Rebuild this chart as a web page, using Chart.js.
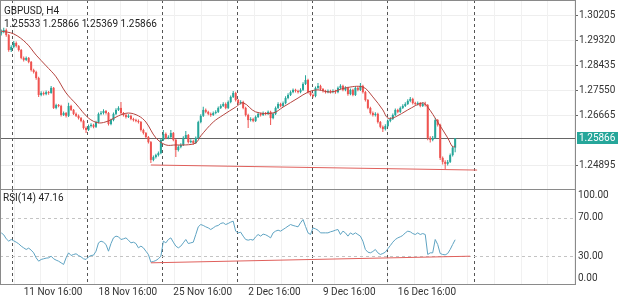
<!DOCTYPE html>
<html><head><meta charset="utf-8">
<script src="https://cdn.jsdelivr.net/npm/chart.js@4.4.1/dist/chart.umd.min.js"></script>
<style>
html,body{margin:0;padding:0;background:#fff;overflow:hidden}
#wrap{position:relative;width:625px;height:298px;background:#fff}
#c1{position:absolute;left:0;top:0}
#c2{position:absolute;left:0;top:189px}
</style></head><body>
<div id="wrap">
<canvas id="c1" width="625" height="189"></canvas>
<canvas id="c2" width="625" height="109"></canvas>
</div>
<script>
// ---------------- DATA ----------------
const symbolTitle = 'GBPUSD, H4';
const lastOHLC = '1.25533 1.25866 1.25369 1.25866';
const rsiTitle = 'RSI(14) 47.16';

const opens = [
1.2958,1.2963,1.2970,1.2952,1.2899,1.2910,1.2924,1.2913,1.2899,1.2871,
1.2864,1.2871,1.2857,1.2828,1.2821,1.2800,1.2740,1.2747,1.2743,1.2750,
1.2747,1.2765,1.2694,1.2704,1.2701,1.2669,1.2676,1.2666,1.2701,1.2687,
1.2673,1.2666,1.2658,1.2648,1.2623,1.2616,1.2630,1.2634,1.2627,1.2644,
1.2673,1.2676,1.2683,1.2676,1.2637,1.2651,1.2673,1.2687,1.2694,1.2676,
1.2669,1.2662,1.2666,1.2655,1.2651,1.2648,1.2644,1.2616,1.2605,1.2591,
1.2573,1.2510,1.2520,1.2527,1.2534,1.2581,1.2602,1.2588,1.2591,1.2605,
1.2581,1.2545,1.2556,1.2563,1.2588,1.2598,1.2573,1.2577,1.2570,1.2588,
1.2644,1.2666,1.2687,1.2680,1.2673,1.2669,1.2676,1.2680,1.2694,1.2701,
1.2708,1.2694,1.2715,1.2733,1.2747,1.2722,1.2711,1.2715,1.2694,1.2669,
1.2651,1.2655,1.2648,1.2662,1.2673,1.2669,1.2676,1.2673,1.2680,1.2658,
1.2673,1.2694,1.2708,1.2701,1.2711,1.2729,1.2740,1.2750,1.2758,1.2754,
1.2750,1.2758,1.2779,1.2793,1.2750,1.2740,1.2736,1.2765,1.2772,1.2761,
1.2754,1.2750,1.2754,1.2750,1.2754,1.2750,1.2765,1.2772,1.2758,1.2765,
1.2743,1.2758,1.2740,1.2765,1.2758,1.2772,1.2750,1.2722,1.2694,1.2676,
1.2669,1.2673,1.2644,1.2627,1.2619,1.2630,1.2648,1.2655,1.2669,1.2687,
1.2680,1.2694,1.2701,1.2708,1.2719,1.2726,1.2711,1.2708,1.2711,1.2701,
1.2708,1.2704,1.2588,1.2581,1.2588,1.2651,1.2634,1.2517,1.2503,1.2496,
1.2503,1.2527,1.25533];
const highs = [
1.2972,1.2978,1.2975,1.2956,1.2916,1.2931,1.2929,1.2917,1.2903,1.2876,
1.2876,1.2874,1.2860,1.2833,1.2826,1.2804,1.2753,1.2752,1.2756,1.2754,
1.2772,1.2768,1.2709,1.2708,1.2705,1.2681,1.2680,1.2712,1.2705,1.2690,
1.2678,1.2671,1.2662,1.2652,1.2628,1.2635,1.2640,1.2638,1.2649,1.2678,
1.2683,1.2689,1.2687,1.2680,1.2656,1.2678,1.2693,1.2700,1.2715,1.2680,
1.2673,1.2672,1.2670,1.2659,1.2656,1.2653,1.2648,1.2620,1.2609,1.2595,
1.2577,1.2526,1.2532,1.2540,1.2587,1.2616,1.2607,1.2597,1.2616,1.2609,
1.2585,1.2562,1.2569,1.2594,1.2612,1.2602,1.2583,1.2581,1.2593,1.2649,
1.2672,1.2698,1.2692,1.2684,1.2678,1.2681,1.2686,1.2699,1.2707,1.2714,
1.2713,1.2720,1.2738,1.2754,1.2751,1.2726,1.2721,1.2719,1.2698,1.2673,
1.2661,1.2659,1.2667,1.2678,1.2677,1.2681,1.2680,1.2685,1.2684,1.2678,
1.2699,1.2714,1.2712,1.2717,1.2735,1.2746,1.2756,1.2763,1.2762,1.2758,
1.2764,1.2785,1.2810,1.2797,1.2754,1.2745,1.2770,1.2782,1.2776,1.2765,
1.2758,1.2759,1.2758,1.2760,1.2758,1.2770,1.2778,1.2776,1.2771,1.2769,
1.2763,1.2762,1.2770,1.2770,1.2782,1.2776,1.2754,1.2726,1.2698,1.2681,
1.2679,1.2677,1.2648,1.2632,1.2636,1.2653,1.2661,1.2674,1.2692,1.2691,
1.2699,1.2707,1.2714,1.2725,1.2733,1.2730,1.2716,1.2717,1.2715,1.2714,
1.2716,1.2708,1.2594,1.2595,1.2658,1.2655,1.2638,1.2522,1.2509,1.2510,
1.2533,1.2560,1.25866];
const lows = [
1.2950,1.2958,1.2946,1.2893,1.2892,1.2905,1.2908,1.2894,1.2866,1.2858,
1.2860,1.2852,1.2823,1.2816,1.2794,1.2733,1.2735,1.2738,1.2739,1.2741,
1.2744,1.2690,1.2689,1.2696,1.2664,1.2665,1.2660,1.2662,1.2683,1.2669,
1.2662,1.2653,1.2643,1.2618,1.2605,1.2612,1.2625,1.2622,1.2623,1.2640,
1.2668,1.2671,1.2671,1.2632,1.2633,1.2647,1.2669,1.2683,1.2672,1.2664,
1.2657,1.2658,1.2650,1.2646,1.2643,1.2639,1.2611,1.2600,1.2586,1.2568,
1.2499,1.2505,1.2515,1.2522,1.2530,1.2577,1.2583,1.2583,1.2587,1.2576,
1.2520,1.2540,1.2551,1.2559,1.2584,1.2568,1.2569,1.2564,1.2566,1.2584,
1.2640,1.2662,1.2675,1.2668,1.2663,1.2665,1.2672,1.2676,1.2690,1.2697,
1.2689,1.2690,1.2711,1.2729,1.2717,1.2706,1.2706,1.2689,1.2664,1.2623,
1.2646,1.2643,1.2644,1.2658,1.2664,1.2665,1.2668,1.2669,1.2634,1.2654,
1.2669,1.2690,1.2696,1.2697,1.2707,1.2725,1.2736,1.2746,1.2749,1.2745,
1.2746,1.2754,1.2775,1.2745,1.2735,1.2731,1.2732,1.2760,1.2756,1.2749,
1.2745,1.2746,1.2745,1.2746,1.2744,1.2746,1.2760,1.2753,1.2753,1.2737,
1.2739,1.2735,1.2736,1.2753,1.2754,1.2745,1.2717,1.2689,1.2671,1.2664,
1.2664,1.2639,1.2622,1.2609,1.2614,1.2626,1.2643,1.2651,1.2665,1.2675,
1.2676,1.2690,1.2697,1.2704,1.2714,1.2706,1.2703,1.2703,1.2696,1.2697,
1.2699,1.2580,1.2572,1.2576,1.2584,1.2628,1.2510,1.2494,1.2478,1.2490,
1.2499,1.2522,1.25369];
const closes = [
1.2963,1.2970,1.2952,1.2899,1.2910,1.2924,1.2913,1.2899,1.2871,1.2864,
1.2871,1.2857,1.2828,1.2821,1.2800,1.2740,1.2747,1.2743,1.2750,1.2747,
1.2765,1.2694,1.2704,1.2701,1.2669,1.2676,1.2666,1.2701,1.2687,1.2673,
1.2666,1.2658,1.2648,1.2623,1.2616,1.2630,1.2634,1.2627,1.2644,1.2673,
1.2676,1.2683,1.2676,1.2637,1.2651,1.2673,1.2687,1.2694,1.2676,1.2669,
1.2662,1.2666,1.2655,1.2651,1.2648,1.2644,1.2616,1.2605,1.2591,1.2573,
1.2510,1.2520,1.2527,1.2534,1.2581,1.2602,1.2588,1.2591,1.2605,1.2581,
1.2545,1.2556,1.2563,1.2588,1.2598,1.2573,1.2577,1.2570,1.2588,1.2644,
1.2666,1.2687,1.2680,1.2673,1.2669,1.2676,1.2680,1.2694,1.2701,1.2708,
1.2694,1.2715,1.2733,1.2747,1.2722,1.2711,1.2715,1.2694,1.2669,1.2651,
1.2655,1.2648,1.2662,1.2673,1.2669,1.2676,1.2673,1.2680,1.2658,1.2673,
1.2694,1.2708,1.2701,1.2711,1.2729,1.2740,1.2750,1.2758,1.2754,1.2750,
1.2758,1.2779,1.2793,1.2750,1.2740,1.2736,1.2765,1.2772,1.2761,1.2754,
1.2750,1.2754,1.2750,1.2754,1.2750,1.2765,1.2772,1.2758,1.2765,1.2743,
1.2758,1.2740,1.2765,1.2758,1.2772,1.2750,1.2722,1.2694,1.2676,1.2669,
1.2673,1.2644,1.2627,1.2619,1.2630,1.2648,1.2655,1.2669,1.2687,1.2680,
1.2694,1.2701,1.2708,1.2719,1.2726,1.2711,1.2708,1.2711,1.2701,1.2708,
1.2704,1.2588,1.2581,1.2588,1.2651,1.2634,1.2517,1.2503,1.2496,1.2503,
1.2527,1.25533,1.25866];

// moving average : bar index / value
const maIdx = [0,5,10,14,18,22,26,30,35,39,43,47,51,55,58,62,66,70,74,78,80,85,89,94,97,102,109,113,119,123,127,132,138,145,149,153,155,158,163,169,171,175,179,181,182];
const maVal = [1.2966,1.2956,1.2924,1.2881,1.2843,1.2804,1.2747,1.2708,1.2658,1.2641,1.2648,1.2666,1.2676,1.2666,1.2644,1.2588,1.2563,1.2563,1.2563,1.2570,1.2595,1.2644,1.2669,1.2697,1.2712,1.2680,1.2676,1.2697,1.2729,1.2750,1.2758,1.2750,1.2765,1.2768,1.2733,1.2687,1.2658,1.2662,1.2687,1.2712,1.2697,1.2644,1.2588,1.2556,1.2559];

// support trend line (main) and RSI trend line
const trendIdx = [60, 190.8];
const trendPrice = [1.2492, 1.2474];
const rsiTrendIdx = [60, 188];
const rsiTrendVal = [23.1, 30.0];

const rsi = [
54.3,52.3,48.1,45.7,47.4,46.0,44.6,42.9,40.5,38.7,
37.0,38.4,36.3,33.5,28.3,24.8,26.6,27.3,28.0,28.3,
30.0,27.3,25.9,24.8,23.1,21.4,28.3,33.5,30.7,31.8,
32.5,30.7,29.3,27.3,26.6,29.3,30.7,31.1,35.2,43.9,
45.7,44.6,42.2,35.2,43.2,49.1,50.9,50.2,47.4,48.1,
49.1,46.7,43.9,44.6,43.2,38.7,40.5,38.7,35.2,31.8,
23.8,24.5,25.5,27.3,30.0,45.7,43.9,47.4,49.1,44.6,
40.5,38.7,40.5,43.9,47.4,43.2,43.9,44.6,52.6,60.6,
63.0,62.0,60.6,59.5,57.8,59.5,61.3,62.0,64.1,64.8,
63.0,64.1,65.5,66.5,56.1,54.3,55.0,50.9,47.4,46.7,
47.4,46.7,50.2,52.6,50.9,53.0,52.3,50.9,49.1,54.3,
56.1,57.1,56.1,57.8,59.5,61.3,63.0,62.0,61.3,60.6,
64.8,68.2,61.0,54.3,52.6,59.5,58.5,57.1,54.3,54.3,
54.3,54.3,55.4,56.1,57.1,57.8,52.6,56.1,54.3,50.9,
54.3,52.6,54.3,52.6,50.9,45.7,37.0,34.2,33.5,34.9,
37.0,33.5,31.8,32.8,34.2,37.7,41.1,44.6,47.4,49.1,
50.2,51.6,54.3,56.1,55.4,53.6,52.6,54.3,52.6,53.6,
52.6,31.8,33.5,33.5,47.4,42.2,32.8,31.8,31.4,32.8,
37.0,42.2,47.16];

const priceTicks = [1.24895, 1.26665, 1.27550, 1.28435, 1.29320, 1.30205];
const rsiTicks = [0, 30, 70, 100];
const xTickIdx = [9, 39, 69, 99, 129, 159];
const xTickLabels = ['11 Nov 16:00', '18 Nov 16:00', '25 Nov 16:00', '2 Dec 16:00', '9 Dec 16:00', '16 Dec 16:00'];
const weekSepIdx = [4.5, 34.5, 64.5, 94.5, 124.5, 154.5, 189.5];

// ---------------- STYLE ----------------
const FONT = 'Roboto, "Noto Sans", "DejaVu Sans", sans-serif';
const UP = '#26a69a', DOWN = '#ef5350';
const MA_COLOR = '#b5443f', TREND_COLOR = '#e0605c', RSI_COLOR = '#5ea3c2';
const X_MIN = -0.5, X_MAX = 230.45;
const Y_MAX = 1.30761, Y_MIN = 1.24070;
const n = closes.length;
const lastClose = closes[n - 1];

const bodyData = closes.map((c, i) => ({x: i, y: [opens[i], c]}));
const wickData = closes.map((c, i) => ({x: i, y: [lows[i], highs[i]]}));
const colorOf = i => (closes[i] >= opens[i] ? UP : DOWN);

function vline(ctx, x, y0, y1) { ctx.beginPath(); ctx.moveTo(x, y0); ctx.lineTo(x, y1); ctx.stroke(); }
function hline(ctx, y, x0, x1) { ctx.beginPath(); ctx.moveTo(x0, y); ctx.lineTo(x1, y); ctx.stroke(); }
const snap = v => Math.round(v) + 0.5;

function drawVerticalGrid(chart) {
  const {ctx, chartArea: a, scales: {x}} = chart;
  ctx.save();
  // faint minor verticals
  ctx.strokeStyle = '#f1f1f1'; ctx.lineWidth = 1;
  for (let v = 197.6; v > X_MIN; v -= 10.7) vline(ctx, snap(x.getPixelForValue(v)), a.top, a.bottom);
  for (let v = 208.3; v < X_MAX; v += 10.7) vline(ctx, snap(x.getPixelForValue(v)), a.top, a.bottom);
  // weekly dashed separators
  ctx.strokeStyle = '#555'; ctx.setLineDash([3, 3]);
  weekSepIdx.forEach(v => vline(ctx, snap(x.getPixelForValue(v)), a.top, a.bottom));
  ctx.restore();
}

const mainDecor = {
  id: 'mainDecor',
  beforeDatasetsDraw(chart) {
    const {ctx, chartArea: a, scales: {y}} = chart;
    drawVerticalGrid(chart);
    ctx.save();
    ctx.strokeStyle = '#666'; ctx.lineWidth = 1;
    hline(ctx, snap(y.getPixelForValue(lastClose)), a.left, a.right);
    ctx.restore();
  },
  afterDraw(chart) {
    const {ctx, chartArea: a, scales: {y}} = chart;
    ctx.save();
    ctx.strokeStyle = '#8a8a8a'; ctx.lineWidth = 1;
    hline(ctx, 0.5, a.left, a.right);
    vline(ctx, a.left + 0.5, a.top, a.bottom);
    vline(ctx, a.right - 0.5, a.top, a.bottom);
    // current price box
    const py = y.getPixelForValue(lastClose);
    ctx.fillStyle = UP;
    ctx.fillRect(a.right + 1, Math.round(py) - 6, 41, 12);
    ctx.fillStyle = '#fff';
    ctx.font = '10px ' + FONT; ctx.textBaseline = 'middle'; ctx.textAlign = 'left';
    ctx.fillText(lastClose.toFixed(5), a.right + 3, py + 0.5);
    // header
    ctx.fillStyle = '#222'; ctx.textBaseline = 'alphabetic';
    ctx.fillText(symbolTitle, 4, 14);
    ctx.fillText(lastOHLC, 4, 27);
    ctx.restore();
  }
};

const rsiDecor = {
  id: 'rsiDecor',
  beforeDatasetsDraw(chart) {
    const {ctx, chartArea: a, scales: {y}} = chart;
    drawVerticalGrid(chart);
    ctx.save();
    ctx.strokeStyle = '#c4c4c4'; ctx.setLineDash([3, 3]); ctx.lineWidth = 1;
    [30, 70].forEach(v => hline(ctx, snap(y.getPixelForValue(v)), a.left, a.right));
    ctx.restore();
  },
  afterDraw(chart) {
    const {ctx, chartArea: a, scales: {y}} = chart;
    ctx.save();
    ctx.strokeStyle = '#8a8a8a'; ctx.lineWidth = 1;
    hline(ctx, 0.5, a.left, a.right);
    hline(ctx, a.bottom - 0.5, a.left, a.right);
    vline(ctx, a.left + 0.5, a.top, a.bottom);
    vline(ctx, a.right - 0.5, a.top, a.bottom);
    ctx.fillStyle = '#333'; ctx.font = '10px ' + FONT;
    ctx.textAlign = 'left'; ctx.textBaseline = 'middle';
    rsiTicks.forEach(v => {
      let py = y.getPixelForValue(v);
      if (v === 100) py += 6.5;
      if (v === 0) py -= 6.5;
      ctx.fillText(v.toFixed(2), a.right + 2, py);
    });
    ctx.fillStyle = '#222'; ctx.textBaseline = 'alphabetic';
    ctx.fillText(rsiTitle, 3, 11.5);
    ctx.restore();
  }
};

const common = {
  responsive: false, animation: false, events: [],
  layout: {padding: 0},
  plugins: {legend: {display: false}, tooltip: {enabled: false}}
};

new Chart(document.getElementById('c1'), {
  type: 'bar',
  data: {
    datasets: [
      {type: 'bar', data: wickData, backgroundColor: c => colorOf(c.dataIndex), barThickness: 1, maxBarThickness: 1, grouped: false, inflateAmount: 0, borderWidth: 0, order: 4},
      {type: 'bar', data: bodyData, backgroundColor: c => colorOf(c.dataIndex), barThickness: 2, maxBarThickness: 2, minBarLength: 1, grouped: false, inflateAmount: 0, borderWidth: 0, order: 3},
      {type: 'line', data: maIdx.map((v, k) => ({x: v, y: maVal[k]})), borderColor: MA_COLOR, borderWidth: 1, pointRadius: 0, tension: 0.35, order: 2},
      {type: 'line', data: trendIdx.map((v, k) => ({x: v, y: trendPrice[k]})), borderColor: TREND_COLOR, borderWidth: 1, pointRadius: 0, order: 1}
    ]
  },
  options: Object.assign({}, common, {
    scales: {
      x: {type: 'linear', min: X_MIN, max: X_MAX, offset: false, display: false},
      y: {
        position: 'right', min: Y_MIN, max: Y_MAX,
        afterFit: s => { s.width = 49; s.paddingTop = 0; s.paddingBottom = 0; },
        afterBuildTicks: s => { s.ticks = priceTicks.map(v => ({value: v})); },
        ticks: {callback: v => Number(v).toFixed(5), color: '#333', font: {size: 10, family: FONT}, padding: 1, autoSkip: false},
        grid: {color: '#eeeeee', tickColor: '#666', tickLength: 2, drawTicks: true},
        border: {display: false}
      }
    }
  }),
  plugins: [mainDecor]
});

new Chart(document.getElementById('c2'), {
  type: 'line',
  data: {
    datasets: [
      {data: rsi.map((v, i) => ({x: i, y: v})), borderColor: RSI_COLOR, borderWidth: 1, pointRadius: 0, tension: 0, order: 2},
      {data: rsiTrendIdx.map((v, k) => ({x: v, y: rsiTrendVal[k]})), borderColor: TREND_COLOR, borderWidth: 1, pointRadius: 0, order: 1}
    ]
  },
  options: Object.assign({}, common, {
    scales: {
      x: {
        type: 'linear', min: X_MIN, max: X_MAX, offset: false,
        afterBuildTicks: s => { s.ticks = xTickIdx.map(v => ({value: v})); },
        afterFit: s => { s.height = 13; s.paddingLeft = 0; s.paddingRight = 0; },
        ticks: {callback: v => xTickLabels[xTickIdx.indexOf(v)] || '', align: 'start', maxRotation: 0, minRotation: 0, autoSkip: false, padding: 1, color: '#333', font: {size: 10, family: FONT}},
        grid: {display: false, drawTicks: false},
        border: {display: false}
      },
      y: {
        position: 'right', min: 0, max: 100,
        afterFit: s => { s.width = 49; s.paddingTop = 0; s.paddingBottom = 0; },
        ticks: {display: false},
        grid: {display: false, drawTicks: false},
        border: {display: false}
      }
    }
  }),
  plugins: [rsiDecor]
});
</script>
</body></html>
